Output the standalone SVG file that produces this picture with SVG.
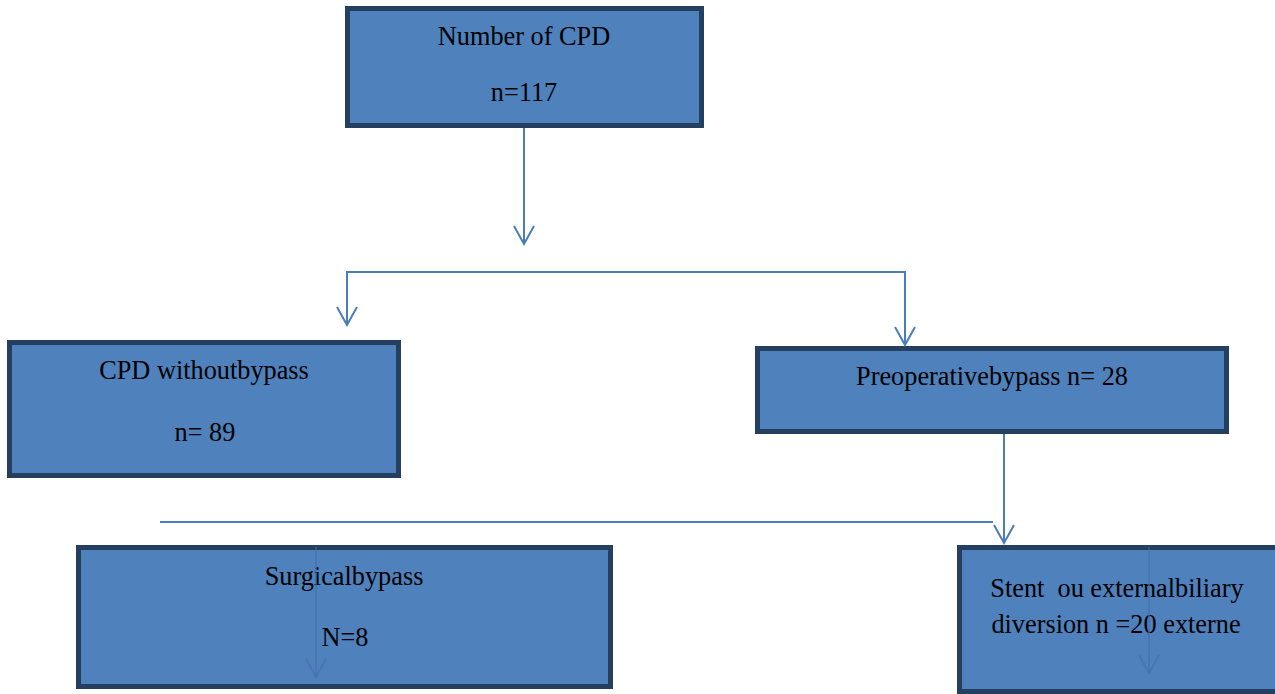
<svg xmlns="http://www.w3.org/2000/svg" width="1275" height="694" viewBox="0 0 1275 694">
<defs>
<style>
.box{fill:#4f81bd;stroke:#243f60;stroke-width:5}
.t{font-family:"Liberation Serif","Times New Roman",serif;font-size:26.3px;fill:#000;text-anchor:middle;white-space:pre}
.c{fill:none;stroke:#4a7ebb;stroke-width:2}
.ci{fill:none;stroke:#3f70ad;stroke-width:2;stroke-opacity:0.55}
</style>
<marker id="ah" markerWidth="24" markerHeight="24" viewBox="-22 -12 24 24" refX="0" refY="0" orient="auto-start-reverse" markerUnits="userSpaceOnUse">
<path d="M-18,-10 L0,0 L-18,10" fill="none" stroke="#4a7ebb" stroke-width="2"/>
</marker>
<marker id="ahi" markerWidth="24" markerHeight="24" viewBox="-22 -12 24 24" refX="0" refY="0" orient="auto" markerUnits="userSpaceOnUse">
<path d="M-18,-10 L0,0 L-18,10" fill="none" stroke="#3f70ad" stroke-opacity="0.55" stroke-width="2"/>
</marker>
</defs>
<rect width="1275" height="694" fill="#fff"/>
<g id="node-total">
<rect class="box" x="347.5" y="8.5" width="354" height="117"/>
<text class="t" x="524" y="45">Number of CPD</text>
<text class="t" x="524" y="101">n=117</text>
</g>
<g id="node-without">
<rect class="box" x="9.5" y="342.5" width="389" height="133"/>
<text class="t" x="204" y="379">CPD withoutbypass</text>
<text class="t" x="205" y="441">n= 89</text>
</g>
<g id="node-preop">
<rect class="box" x="757.5" y="348.5" width="469" height="83"/>
<text class="t" x="992" y="385">Preoperativebypass n= 28</text>
</g>
<g id="node-surgical">
<rect class="box" x="78.5" y="547.5" width="532" height="139"/>
<text class="t" x="344" y="585">Surgicalbypass</text>
<text class="t" x="345" y="646">N=8</text>
</g>
<g id="node-stent">
<rect class="box" x="959.5" y="547.5" width="340" height="144"/>
<text class="t" x="1117" y="597">Stent  ou externalbiliary</text>
<text class="t" x="1116" y="633">diversion n =20 externe</text>
</g>
<g id="connectors">
<path class="c" d="M524,128 V244" marker-end="url(#ah)"/>
<path class="c" d="M905,345 V272 H347 V325" marker-end="url(#ah)" marker-start="url(#ah)"/>
<path class="c" d="M1004,434 V543" marker-end="url(#ah)"/>
<path class="c" d="M160,522 H993"/>
<path class="ci" d="M316,547 V677" marker-end="url(#ahi)"/>
<path class="ci" d="M1149,547 V673" marker-end="url(#ahi)"/>
</g>
</svg>
